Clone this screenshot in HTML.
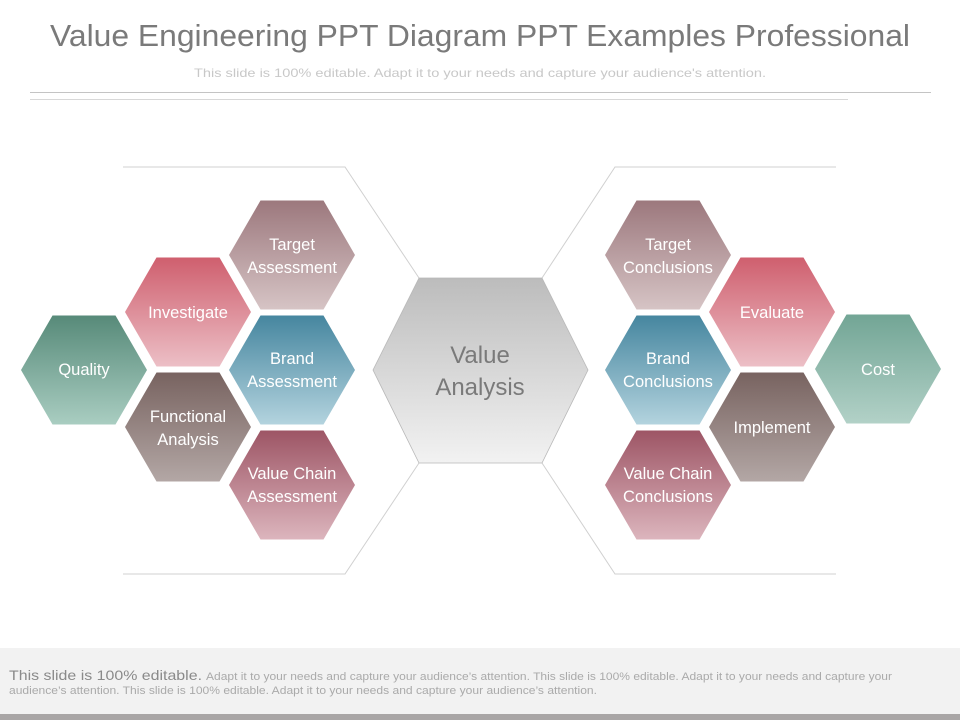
<!DOCTYPE html>
<html><head><meta charset="utf-8"><style>
html,body{margin:0;padding:0;background:#fff;}
body{width:960px;height:720px;overflow:hidden;position:relative;font-family:"Liberation Sans",sans-serif;}
</style></head><body>
<svg width="960" height="720" viewBox="0 0 960 720" xmlns="http://www.w3.org/2000/svg" style="position:absolute;left:0;top:0">
<defs>
<polygon id="h" points="-63,0 -31.5,-54.5 31.5,-54.5 63,0 31.5,54.5 -31.5,54.5"/>
<linearGradient id="gT" x1="0" y1="0" x2="0" y2="1"><stop offset="0" stop-color="#9c787d"/><stop offset="1" stop-color="#d6c4c5"/></linearGradient>
<linearGradient id="gI" x1="0" y1="0" x2="0" y2="1"><stop offset="0" stop-color="#cf5f6e"/><stop offset="1" stop-color="#ecbfc6"/></linearGradient>
<linearGradient id="gQ" x1="0" y1="0" x2="0" y2="1"><stop offset="0" stop-color="#578a79"/><stop offset="1" stop-color="#a9cdc1"/></linearGradient>
<linearGradient id="gC" x1="0" y1="0" x2="0" y2="1"><stop offset="0" stop-color="#72a595"/><stop offset="1" stop-color="#b2d1c7"/></linearGradient>
<linearGradient id="gB" x1="0" y1="0" x2="0" y2="1"><stop offset="0" stop-color="#46869f"/><stop offset="1" stop-color="#b3d3de"/></linearGradient>
<linearGradient id="gF" x1="0" y1="0" x2="0" y2="1"><stop offset="0" stop-color="#786360"/><stop offset="1" stop-color="#b3a7a5"/></linearGradient>
<linearGradient id="gV" x1="0" y1="0" x2="0" y2="1"><stop offset="0" stop-color="#9d5565"/><stop offset="1" stop-color="#dcb5bd"/></linearGradient>
<linearGradient id="gM" x1="0" y1="0" x2="0" y2="1"><stop offset="0" stop-color="#bcbcbc"/><stop offset="1" stop-color="#f2f2f2"/></linearGradient>
</defs>
<text x="50" y="46" font-size="31" fill="#7a7a7a" textLength="860" lengthAdjust="spacingAndGlyphs">Value Engineering PPT Diagram PPT Examples Professional</text>
<text x="194" y="77" font-size="12" fill="#c8c8c8" textLength="572" lengthAdjust="spacingAndGlyphs">This slide is 100% editable. Adapt it to your needs and capture your audience's attention.</text>
<line x1="30" y1="92.5" x2="931" y2="92.5" stroke="#c4c4c4"/>
<line x1="30" y1="99.5" x2="848" y2="99.5" stroke="#d8d8d8"/>
<g fill="none" stroke="#d0d0d0" stroke-width="1">
<polyline points="123,167 345,167 419,278"/>
<polyline points="419,463 345,574 123,574"/>
<polyline points="836,167 615,167 542,278"/>
<polyline points="542,463 615,574 836,574"/>
</g>
<polygon points="373,370 419,278 542,278 588,370 542,463 419,463" fill="url(#gM)" stroke="#b8b8b8" stroke-width="0.8"/>
<text text-anchor="middle" font-size="24" fill="#7a7a7a"><tspan x="480" y="363">Value</tspan><tspan x="480" y="395">Analysis</tspan></text>
<g>
<use href="#h" x="292" y="255" fill="url(#gT)"/>
<use href="#h" x="188" y="312" fill="url(#gI)"/>
<use href="#h" x="84" y="370" fill="url(#gQ)"/>
<use href="#h" x="292" y="370" fill="url(#gB)"/>
<use href="#h" x="188" y="427" fill="url(#gF)"/>
<use href="#h" x="292" y="485" fill="url(#gV)"/>
<use href="#h" x="668" y="255" fill="url(#gT)"/>
<use href="#h" x="772" y="312" fill="url(#gI)"/>
<use href="#h" x="878" y="369" fill="url(#gC)"/>
<use href="#h" x="668" y="370" fill="url(#gB)"/>
<use href="#h" x="772" y="427" fill="url(#gF)"/>
<use href="#h" x="668" y="485" fill="url(#gV)"/>
</g>
<g fill="#fff" font-size="16.5" text-anchor="middle">
<text><tspan x="292" y="250">Target</tspan><tspan x="292" y="273">Assessment</tspan></text>
<text x="188" y="318">Investigate</text>
<text x="84" y="375">Quality</text>
<text><tspan x="292" y="364">Brand</tspan><tspan x="292" y="387">Assessment</tspan></text>
<text><tspan x="188" y="422">Functional</tspan><tspan x="188" y="445">Analysis</tspan></text>
<text><tspan x="292" y="479">Value Chain</tspan><tspan x="292" y="502">Assessment</tspan></text>
<text><tspan x="668" y="250">Target</tspan><tspan x="668" y="273">Conclusions</tspan></text>
<text x="772" y="318">Evaluate</text>
<text x="878" y="375">Cost</text>
<text><tspan x="668" y="364">Brand</tspan><tspan x="668" y="387">Conclusions</tspan></text>
<text x="772" y="433">Implement</text>
<text><tspan x="668" y="479">Value Chain</tspan><tspan x="668" y="502">Conclusions</tspan></text>
</g>
<rect x="0" y="648" width="960" height="66" fill="#f2f2f2"/>
<rect x="0" y="714" width="960" height="6" fill="#a9a6a6"/>
<text x="9" y="680" font-size="14" fill="#8a8a8a" textLength="193" lengthAdjust="spacingAndGlyphs">This slide is 100% editable.</text>
<text x="206" y="680" font-size="11" fill="#aaa" textLength="686" lengthAdjust="spacingAndGlyphs">Adapt it to your needs and capture your audience’s attention. This slide is 100% editable. Adapt it to your needs and capture your</text>
<text x="9" y="694" font-size="11" fill="#aaa" textLength="588" lengthAdjust="spacingAndGlyphs">audience’s attention. This slide is 100% editable. Adapt it to your needs and capture your audience’s attention.</text>
</svg>
</body></html>
